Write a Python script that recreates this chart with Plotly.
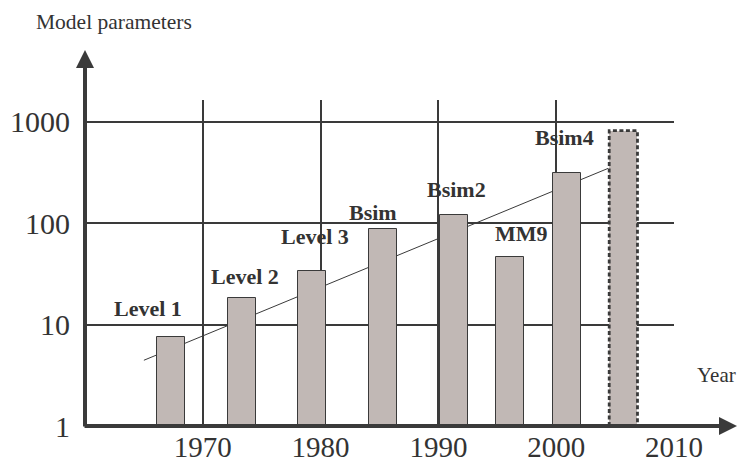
import plotly.graph_objects as go
import math

# ---- data ----
models = ["Level 1", "Level 2", "Level 3", "Bsim", "Bsim2", "MM9", "Bsim4", ""]
years = [1967.3, 1973.3, 1979.3, 1985.3, 1991.3, 1996.1, 2000.9, 2005.7]
params = [6.6, 17.4, 33, 87, 119, 45.5, 312, 817]
projected = [False, False, False, False, False, False, False, True]
trend_years = [1965.0, 2004.4]
trend_params = [4.45, 347]
x_ticks = [1970, 1980, 1990, 2000, 2010]
y_ticks = [1, 10, 100, 1000]
y_ticklabels = ["1", "10", "100", "1000"]

# ---- style ----
BAR_W = 2.4
FILL = "#c1b8b5"
DARK = "#3a3a3a"
TXT = "#333333"
SERIF = "Liberation Serif, Times New Roman, serif"
label_shift = [(-23, 34), (3, 24), (3, 36), (-10, 17), (3, 26), (11, 24), (-2, 36), (0, 0)]

X_RANGE = [1960, 2010]
Y_RANGE = [0, 3.215]

fig = go.Figure()

# trend line (main axes, drawn beneath bars on the overlay axes)
fig.add_trace(go.Scatter(x=trend_years, y=trend_params, mode="lines",
                         line=dict(color=DARK, width=1), xaxis="x", yaxis="y",
                         hoverinfo="skip", showlegend=False))

solid_x = [x for x, p in zip(years, projected) if not p]
solid_y = [v for v, p in zip(params, projected) if not p]
proj_x = [x for x, p in zip(years, projected) if p]
proj_y = [v for v, p in zip(params, projected) if p]

fig.add_trace(go.Bar(x=solid_x, y=solid_y, base=1, width=BAR_W,
                     marker=dict(color=FILL, line=dict(color=DARK, width=1)),
                     xaxis="x2", yaxis="y2", showlegend=False))
fig.add_trace(go.Bar(x=proj_x, y=proj_y, base=1, width=BAR_W,
                     marker=dict(color=FILL, line=dict(width=0)),
                     xaxis="x2", yaxis="y2", showlegend=False))

# dashed outline of projected bar
for x, v in zip(proj_x, proj_y):
    fig.add_trace(go.Scatter(
        x=[x - BAR_W / 2, x - BAR_W / 2, x + BAR_W / 2, x + BAR_W / 2, x - BAR_W / 2],
        y=[1, v, v, 1, 1], mode="lines",
        line=dict(color=DARK, width=2.8, dash="4px,2.5px"),
        xaxis="x2", yaxis="y2", hoverinfo="skip", showlegend=False))

annotations = []
for name, x, v, (dx, dy) in zip(models, years, params, label_shift):
    if not name:
        continue
    annotations.append(dict(x=x, y=math.log10(v), xref="x2", yref="y2", text=f"<b>{name}</b>",
                            showarrow=False, xanchor="center", yanchor="middle",
                            xshift=dx, yshift=dy,
                            font=dict(family=SERIF, size=22, color=TXT)))

# axis arrows
annotations.append(dict(x=0, y=1.1534, xref="paper", yref="paper", text="",
                        showarrow=True, ax=0, ay=378, axref="pixel", ayref="pixel",
                        arrowhead=2, arrowsize=0.9, arrowwidth=4, arrowcolor=DARK, standoff=0))
annotations.append(dict(x=1.107, y=0, xref="paper", yref="paper", text="",
                        showarrow=True, ax=-654, ay=0, axref="pixel", ayref="pixel",
                        arrowhead=2, arrowsize=0.9, arrowwidth=4, arrowcolor=DARK, standoff=0))
annotations.append(dict(x=0.0487, y=1.239, xref="paper", yref="paper", text="Model parameters",
                        showarrow=False, xanchor="center", yanchor="middle",
                        font=dict(family=SERIF, size=21.5, color=TXT)))
annotations.append(dict(x=1.0357, y=0.156, xref="paper", yref="paper", text="Year",
                        showarrow=False, xanchor="left", yanchor="middle",
                        font=dict(family=SERIF, size=21, color=TXT)))

axis_common = dict(showline=False, zeroline=False, ticks="", automargin=False)

fig.update_layout(
    width=738, height=466,
    margin=dict(l=85, r=64, t=100, b=40, autoexpand=False),
    paper_bgcolor="white", plot_bgcolor="white",
    bargap=0,
    xaxis=dict(range=X_RANGE, tickvals=x_ticks, showgrid=True, gridcolor=DARK, gridwidth=1.5,
               ticklabelstandoff=1, tickfont=dict(family=SERIF, size=29, color=TXT), **axis_common),
    yaxis=dict(type="log", range=Y_RANGE, tickvals=y_ticks, ticktext=y_ticklabels,
               showgrid=True, gridcolor=DARK, gridwidth=1.5, ticklabelstandoff=14,
               tickfont=dict(family=SERIF, size=30, color=TXT), **axis_common),
    xaxis2=dict(range=X_RANGE, overlaying="x", visible=False),
    yaxis2=dict(type="log", range=Y_RANGE, overlaying="y", visible=False),
    annotations=annotations,
    showlegend=False,
)

fig.write_html("out.html", config={"displayModeBar": False},
               post_script="document.body.style.margin='0';document.body.style.overflow='hidden';")
